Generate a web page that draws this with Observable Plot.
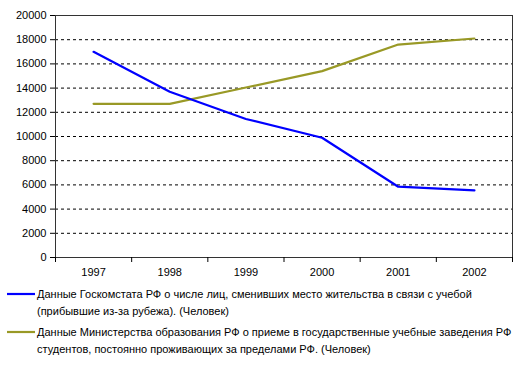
<!DOCTYPE html>
<html><head><meta charset="utf-8">
<script src="https://cdn.jsdelivr.net/npm/d3@7"></script>
<script src="https://cdn.jsdelivr.net/npm/@observablehq/plot@0.6"></script>
<style>
body{margin:0;background:#fff;font-family:"Liberation Sans",Arial,sans-serif;}
#legend{position:relative;font-size:11px;color:#000;}
.item{position:absolute;left:0;white-space:nowrap;line-height:16.5px;}
.item svg{position:absolute;left:7px;top:6px;}
.item .t{position:absolute;left:37px;top:0;}
</style></head>
<body>
<div id="chart"></div>
<div id="legend"></div>
<script>
const years = [1997, 1998, 1999, 2000, 2001, 2002];
const goskomstat = [17000, 13700, 11450, 9900, 5850, 5550];
const minobr = [12700, 12700, 14050, 15400, 17600, 18100];
const yTicks = [0, 2000, 4000, 6000, 8000, 10000, 12000, 14000, 16000, 18000, 20000];
const seriesNames = [
  "Данные Госкомстата РФ о числе лиц, сменивших место жительства в связи с учебой<br>(прибывшие из-за рубежа). (Человек)",
  "Данные Министерства образования РФ о приеме в государственные учебные заведения РФ<br>студентов, постоянно проживающих за пределами РФ. (Человек)"
];
const colors = ["#0000ff", "#999926"];

const data = [];
years.forEach((y, i) => {
  data.push({year: y, value: goskomstat[i], s: 0});
  data.push({year: y, value: minobr[i], s: 1});
});
const bounds = years.map(y => y - 0.5).concat([years[years.length - 1] + 0.5]);
const gridTicks = yTicks.slice(1, -1);

const chart = Plot.plot({
  width: 517, height: 285,
  marginLeft: 55, marginRight: 5, marginTop: 15, marginBottom: 28,
  style: {fontFamily: "'Liberation Sans', Arial, sans-serif", fontSize: "11px", color: "#000", background: "#fff"},
  x: {type: "linear", domain: [bounds[0], bounds[bounds.length - 1]]},
  y: {domain: [0, 20000]},
  marks: [
    Plot.ruleY(gridTicks, {stroke: "#000", strokeDasharray: "3,3", strokeWidth: 1}),
    Plot.frame({stroke: "#333", strokeWidth: 1}),
    Plot.axisY({ticks: yTicks, tickSize: 5, tickPadding: 4, label: null, tickFormat: d => String(d), stroke: "#000"}),
    Plot.axisX({ticks: bounds, tickSize: 5, tickFormat: () => "", label: null}),
    Plot.axisX({ticks: years, tickSize: 0, tickPadding: 11, tickFormat: d => String(d), label: null}),
    Plot.line(data.filter(d => d.s === 1), {x: "year", y: "value", stroke: colors[1], strokeWidth: 2.2, strokeLinejoin: "miter"}),
    Plot.line(data.filter(d => d.s === 0), {x: "year", y: "value", stroke: colors[0], strokeWidth: 2.2, strokeLinejoin: "miter"})
  ]
});
document.getElementById("chart").appendChild(chart);

const legend = document.getElementById("legend");
legend.style.height = "80px";
const tops = [1, 39];
seriesNames.forEach((name, i) => {
  const div = document.createElement("div");
  div.className = "item";
  div.style.top = tops[i] + "px";
  div.innerHTML = `<svg width="28" height="4"><line x1="0" x2="28" y1="2" y2="2" stroke="${colors[i]}" stroke-width="2.2"/></svg><span class="t">${name}</span>`;
  legend.appendChild(div);
});
</script>
</body></html>
